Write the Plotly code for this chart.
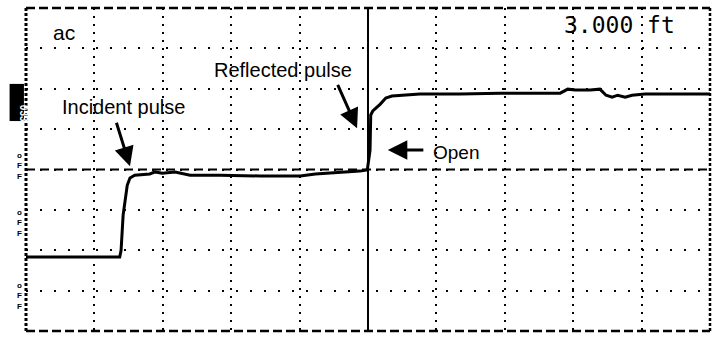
import plotly.graph_objects as go

# TDR trace, in screen divisions (10 x 8)
trace_x = [0.00, 1.37, 1.39, 1.42, 1.45, 1.48, 1.52, 1.59, 1.81, 1.89, 1.99, 2.18,
           2.40, 2.84, 3.42, 4.01, 4.23, 4.44, 4.66, 4.88, 4.99, 5.03, 5.04, 5.07,
           5.18, 5.26, 5.35, 5.50, 5.76, 6.35, 6.93, 7.81, 7.92, 8.03, 8.25, 8.39,
           8.48, 8.57, 8.65, 8.76, 8.86, 9.05, 10.00]
trace_y = [1.83, 1.83, 2.00, 2.87, 3.24, 3.61, 3.79, 3.86, 3.89, 3.94, 3.91, 3.94,
           3.86, 3.86, 3.84, 3.84, 3.89, 3.91, 3.94, 3.96, 3.99, 4.48, 5.35, 5.45,
           5.62, 5.77, 5.82, 5.84, 5.87, 5.87, 5.89, 5.89, 5.99, 5.97, 5.97, 5.99,
           5.84, 5.79, 5.84, 5.79, 5.84, 5.87, 5.87]

cursor_x = 5.0
mode_label = 'ac'
distance_label = '3.000 ft'
callouts = ['Incident pulse', 'Reflected pulse', 'Open']
edge_marks = ['o', 'F', 'F']

fig = go.Figure()

fig.add_trace(
    go.Scatter(
        x=trace_x, y=trace_y,
        mode='lines',
        line={'color': 'black', 'width': 3},
        hoverinfo='skip',
    )
)

black = 'black'
font = 'Liberation Sans, Arial, sans-serif'

shapes = [
    # cursor
    dict(type='line', x0=cursor_x, x1=cursor_x, y0=0, y1=8,
         line={'color': black, 'width': 2}),
    # centre horizontal graticule line
    dict(type='line', x0=0, x1=10, y0=4, y1=4,
         line={'color': black, 'width': 2, 'dash': '9px,5px'}),
    # screen border (paper refs so it is not clipped)
    dict(type='line', xref='paper', yref='paper', x0=0, x1=1, y0=1, y1=1,
         line={'color': black, 'width': 2.5, 'dash': '9px,4px'}),
    dict(type='line', xref='paper', yref='paper', x0=0, x1=1, y0=0, y1=0,
         line={'color': black, 'width': 2.5, 'dash': '9px,4px'}),
    dict(type='line', xref='paper', yref='paper', x0=0, x1=0, y0=0, y1=1,
         line={'color': black, 'width': 3, 'dash': '3px,2px'}),
    dict(type='line', xref='paper', yref='paper', x0=1, x1=1, y0=0, y1=1,
         line={'color': black, 'width': 2.5, 'dash': '3px,2px'}),
    # black channel tag in the left margin
    dict(type='rect', xref='paper', yref='paper',
         x0=-0.024, x1=-0.003, y0=0.65, y1=0.765,
         fillcolor=black, line={'width': 0}),
]

annotations = [
    dict(x=0.56, y=7.40, text=mode_label, showarrow=False,
         font={'family': font, 'size': 21, 'color': black}),
    dict(x=8.67, y=7.57, text=distance_label, showarrow=False,
         font={'family': 'DejaVu Sans Mono, monospace', 'size': 23, 'color': black}),
    dict(x=1.42, y=5.54, text=callouts[0], showarrow=False,
         font={'family': font, 'size': 20, 'color': black}),
    dict(x=3.76, y=6.46, text=callouts[1], showarrow=False,
         font={'family': font, 'size': 20, 'color': black}),
    dict(x=6.29, y=4.43, text=callouts[2], showarrow=False,
         font={'family': font, 'size': 19, 'color': black}),
    # arrows
    dict(x=1.52, y=4.08, ax=-14, ay=-45, text='', showarrow=True,
         arrowhead=2, arrowsize=1.3, arrowwidth=3, arrowcolor=black, standoff=0),
    dict(x=4.84, y=5.02, ax=-20, ay=-45, text='', showarrow=True,
         arrowhead=2, arrowsize=1.3, arrowwidth=3, arrowcolor=black, standoff=0),
    dict(x=5.29, y=4.48, ax=37, ay=0, text='', showarrow=True,
         arrowhead=2, arrowsize=1.3, arrowwidth=3, arrowcolor=black, standoff=0),
    dict(xref='paper', yref='paper', x=-0.0135, y=0.707, text='<b>033</b>',
         textangle=90, showarrow=False,
         font={'family': font, 'size': 10, 'color': 'white'}),
]

# little reference markers down the left edge, one stacked text per group
for yc in [0.51, 0.285, 0.06]:
    annotations.append(
        dict(xref='paper', yref='paper', x=-0.015, y=yc,
             text='<br>'.join('<b>' + m + '</b>' for m in edge_marks),
             showarrow=False, borderpad=0,
             font={'family': font, 'size': 8, 'color': black})
    )

fig.update_layout(
    width=719, height=337,
    margin={'l': 26, 'r': 9, 't': 8, 'b': 6},
    paper_bgcolor='white', plot_bgcolor='white',
    showlegend=False,
    shapes=shapes,
    annotations=annotations,
    xaxis={'range': [0, 10], 'dtick': 1, 'showticklabels': False,
           'showgrid': True, 'gridcolor': black, 'gridwidth': 2,
           'griddash': '2px,6px', 'zeroline': False, 'showline': False,
           'fixedrange': True},
    yaxis={'range': [0, 8], 'dtick': 1, 'showticklabels': False,
           'showgrid': True, 'gridcolor': black, 'gridwidth': 2,
           'griddash': '2px,12px', 'zeroline': False, 'showline': False,
           'fixedrange': True},
)

# page body has a default 8px margin; drop it so the figure sits at 0,0
fig.write_html('out.html', config={'displayModeBar': False},
               post_script="document.body.style.margin='0px';")
